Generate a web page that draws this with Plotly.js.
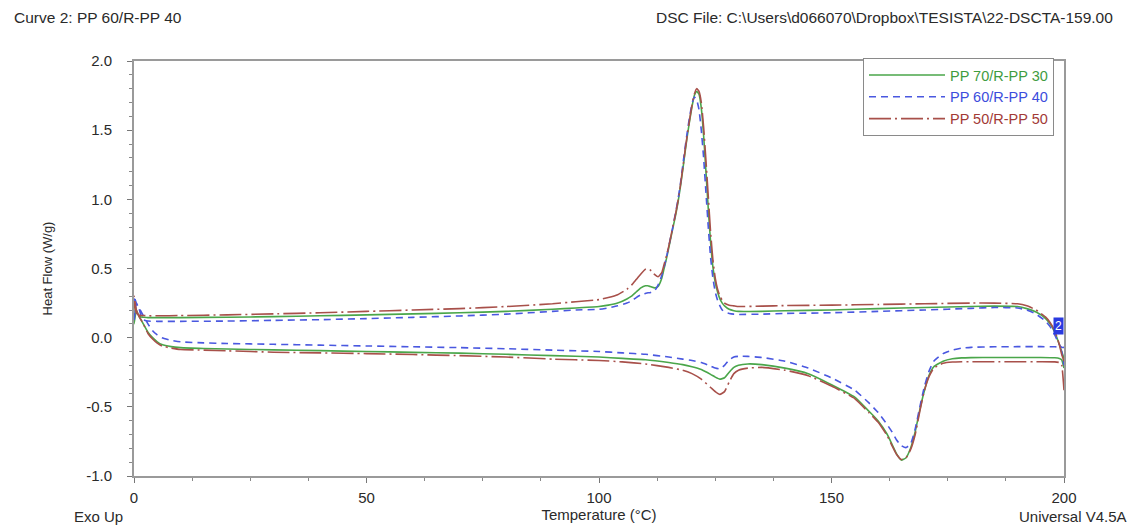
<!DOCTYPE html>
<html>
<head>
<meta charset="utf-8">
<script src="https://cdn.plot.ly/plotly-3.0.1.min.js"></script>
<style>html,body{margin:0;padding:0;background:#fff;}#chart{width:1128px;height:526px;}</style>
</head>
<body>
<div id="chart"></div>
<script>
// Temperature grids (°C)
const coolT = [0,0.5,1,1.5,2,3,5,10,20,30,
  40,50,60,70,80,90,95,100,102,104,
  106,107,108,109,110,110.5,111,112,112.7,113.5,
  114,114.5,115,115.5,116,116.5,117,117.5,118,118.5,
  119,119.5,120,120.5,121,121.5,122,122.5,123,123.5,
  124,124.5,125,125.5,126,126.5,127,128,129,130,
  135,140,150,160,170,180,185,190,192,194,
  196,197,198,199,199.5,200];
const heatT = [0,0.5,1,2,3,4,5,6,8,10,
  15,20,30,40,50,60,70,80,90,100,
  105,110,115,118,120,122,124,125,126,127,
  128,129,130,132,135,140,145,150,155,158,
  160,162,163,164,165,166,167,168,169,170,
  171,172,174,176,178,180,185,190,195,198,
  199,199.5,200];

// Heat flow (W/g) — PP 70/R-PP 30
const coolPP70 = [0.1,0.2,0.16,0.15,0.148,0.145,0.145,0.145,0.148,0.152,
  0.158,0.165,0.172,0.18,0.19,0.205,0.215,0.225,0.235,0.25,
  0.28,0.30,0.33,0.36,0.375,0.375,0.37,0.36,0.37,0.43,
  0.5,0.57,0.65,0.73,0.81,0.89,0.98,1.09,1.21,1.34,
  1.46,1.57,1.67,1.75,1.78,1.76,1.66,1.46,1.2,0.93,
  0.69,0.51,0.4,0.33,0.28,0.25,0.23,0.205,0.195,0.19,
  0.19,0.195,0.2,0.21,0.218,0.225,0.228,0.225,0.21,0.185,
  0.14,0.1,0.04,-0.05,-0.1,-0.15];
const heatPP70 = [0.25,0.2,0.16,0.1,0.04,0.0,-0.03,-0.05,-0.065,-0.072,
  -0.078,-0.082,-0.088,-0.094,-0.1,-0.106,-0.112,-0.12,-0.13,-0.14,
  -0.15,-0.16,-0.18,-0.195,-0.21,-0.23,-0.265,-0.285,-0.3,-0.29,
  -0.25,-0.215,-0.2,-0.19,-0.195,-0.22,-0.26,-0.34,-0.43,-0.53,
  -0.6,-0.7,-0.77,-0.84,-0.885,-0.87,-0.8,-0.68,-0.52,-0.38,
  -0.27,-0.21,-0.17,-0.152,-0.146,-0.144,-0.143,-0.143,-0.143,-0.145,
  -0.15,-0.16,-0.22];

// PP 60/R-PP 40
const coolPP60 = [0.12,0.25,0.22,0.16,0.13,0.12,0.118,0.118,0.12,0.125,
  0.13,0.138,0.147,0.157,0.17,0.19,0.2,0.205,0.215,0.23,
  0.25,0.265,0.29,0.31,0.32,0.325,0.325,0.34,0.38,0.45,
  0.51,0.58,0.66,0.74,0.82,0.91,1.0,1.11,1.24,1.37,
  1.49,1.6,1.69,1.74,1.72,1.65,1.5,1.3,1.05,0.8,
  0.58,0.43,0.33,0.27,0.23,0.2,0.185,0.175,0.17,0.168,
  0.17,0.175,0.18,0.19,0.2,0.212,0.218,0.215,0.2,0.17,
  0.12,0.08,0.02,-0.05,-0.07,-0.07];
const heatPP60 = [0.3,0.25,0.22,0.16,0.1,0.05,0.02,0.0,-0.02,-0.03,
  -0.038,-0.042,-0.048,-0.054,-0.06,-0.066,-0.072,-0.08,-0.09,-0.1,
  -0.11,-0.12,-0.14,-0.155,-0.165,-0.18,-0.205,-0.22,-0.226,-0.2,
  -0.16,-0.14,-0.135,-0.135,-0.143,-0.17,-0.22,-0.29,-0.38,-0.47,
  -0.54,-0.63,-0.68,-0.74,-0.78,-0.795,-0.77,-0.66,-0.5,-0.35,
  -0.24,-0.17,-0.115,-0.09,-0.075,-0.07,-0.066,-0.065,-0.065,-0.066,
  -0.07,-0.1,-0.2];

// PP 50/R-PP 50
const coolPP50 = [0.25,0.18,0.165,0.16,0.16,0.158,0.158,0.16,0.165,0.172,
  0.18,0.19,0.2,0.21,0.225,0.245,0.26,0.275,0.29,0.31,
  0.35,0.38,0.42,0.46,0.495,0.5,0.49,0.455,0.44,0.47,
  0.53,0.59,0.66,0.74,0.82,0.9,0.99,1.1,1.22,1.35,
  1.47,1.58,1.68,1.76,1.8,1.78,1.7,1.52,1.28,1.02,
  0.76,0.56,0.43,0.35,0.3,0.27,0.25,0.235,0.23,0.225,
  0.228,0.232,0.235,0.24,0.245,0.25,0.25,0.245,0.23,0.2,
  0.15,0.11,0.05,-0.05,-0.12,-0.17];
const heatPP50 = [0.3,0.2,0.16,0.1,0.03,-0.01,-0.04,-0.06,-0.075,-0.085,
  -0.09,-0.095,-0.105,-0.11,-0.115,-0.122,-0.13,-0.14,-0.155,-0.165,
  -0.175,-0.19,-0.215,-0.235,-0.26,-0.3,-0.36,-0.39,-0.41,-0.39,
  -0.32,-0.26,-0.235,-0.22,-0.215,-0.235,-0.275,-0.35,-0.44,-0.54,
  -0.61,-0.71,-0.78,-0.845,-0.88,-0.87,-0.81,-0.7,-0.53,-0.38,
  -0.28,-0.22,-0.185,-0.176,-0.174,-0.174,-0.174,-0.174,-0.174,-0.175,
  -0.18,-0.2,-0.38];

const seriesNames = ["PP 70/R-PP 30", "PP 60/R-PP 40", "PP 50/R-PP 50"];
const xTicks = [0, 50, 100, 150, 200];
const yTicks = [-1.0, -0.5, 0.0, 0.5, 1.0, 1.5, 2.0];

const lineColors = ["#4aa64a", "#4a58e0", "#a8504a"];
const textColors = ["#3f9c3f", "#3c4ddc", "#a23a36"];
const dashes = ["solid", "7px,5px", "22px,4px,2px,4px"];
const cools = [coolPP70, coolPP60, coolPP50];
const heats = [heatPP70, heatPP60, heatPP50];

const traces = seriesNames.map((n, i) => ({
  type: "scatter", mode: "lines",
  x: coolT.slice().reverse().concat(heatT),
  y: cools[i].slice().reverse().concat(heats[i]),
  name: '<span style="color:' + textColors[i] + '">' + n + '</span>',
  line: {color: lineColors[i], width: 1.6, dash: dashes[i], shape: "spline", smoothing: 0.4},
  hoverinfo: "skip"
}));

const L = 134, R = 1064, T = 61, B = 476;
const px = v => (v - L) / (R - L);
const py = v => (B - v) / (B - T);
const font = "Liberation Sans, Arial, sans-serif";
const txt = "#2a2a2a";

const layout = {
  width: 1128, height: 526,
  margin: {l: L, r: 1128 - R, t: T, b: 526 - B, pad: 0},
  paper_bgcolor: "#fff", plot_bgcolor: "#fff",
  font: {family: font, size: 15, color: txt},
  showlegend: true,
  legend: {x: px(863), y: py(58), xanchor: "left", yanchor: "top",
    bgcolor: "#fff", bordercolor: "#8a8a8a", borderwidth: 1,
    font: {family: font, size: 14.5}, itemwidth: 76, tracegroupgap: 0},
  xaxis: {range: [0, 200], tickvals: xTicks, ticktext: xTicks.map(String),
    showgrid: false, zeroline: false, showline: true, linecolor: "#9a9a9a", linewidth: 2,
    mirror: true, ticks: "outside", ticklen: 5, tickwidth: 1, tickcolor: "#777",
    minor: {dtick: 12.5, ticks: "outside", ticklen: 3, tickcolor: "#888", showgrid: false},
    tickfont: {family: font, size: 15, color: txt}, ticklabelstandoff: 2,
    title: {text: "Temperature (°C)", font: {family: font, size: 15, color: txt}, standoff: 4}},
  yaxis: {range: [-1, 2], tickvals: yTicks, ticktext: yTicks.map(v => v.toFixed(1)),
    showgrid: false, zeroline: false, showline: true, linecolor: "#9a9a9a", linewidth: 2,
    mirror: true, ticks: "outside", ticklen: 5, tickwidth: 1, tickcolor: "#777",
    minor: {dtick: 0.1, ticks: "outside", ticklen: 3, tickcolor: "#888", showgrid: false},
    tickfont: {family: font, size: 15, color: txt}, ticklabelstandoff: 12,
    title: {text: "Heat Flow (W/g)", font: {family: font, size: 13, color: txt}, standoff: 31}},
  annotations: [
    {xref: "paper", yref: "paper", x: px(12), y: py(17), xanchor: "left", yanchor: "middle",
     text: "Curve 2: PP 60/R-PP 40", showarrow: false, font: {family: font, size: 15.5, color: txt}},
    {xref: "paper", yref: "paper", x: px(1115), y: py(17), xanchor: "right", yanchor: "middle",
     text: "DSC File: C:\\Users\\d066070\\Dropbox\\TESISTA\\22-DSCTA-159.00", showarrow: false,
     font: {family: font, size: 15.5, color: txt}},
    {xref: "paper", yref: "paper", x: px(72), y: py(516), xanchor: "left", yanchor: "middle",
     text: "Exo Up", showarrow: false, font: {family: font, size: 15, color: txt}},
    {xref: "paper", yref: "paper", x: px(1017), y: py(516), xanchor: "left", yanchor: "middle",
     text: "Universal V4.5A", showarrow: false, font: {family: font, size: 15, color: txt}},
    {xref: "x", yref: "y", x: 200, y: 0.083, xanchor: "right", yanchor: "middle",
     text: "2", showarrow: false, bgcolor: "#2a3ae0", borderpad: 1,
     font: {family: font, size: 12, color: "#fff"}}
  ]
};

Plotly.newPlot("chart", traces, layout, {displayModeBar: false, staticPlot: true});
</script>
</body>
</html>
